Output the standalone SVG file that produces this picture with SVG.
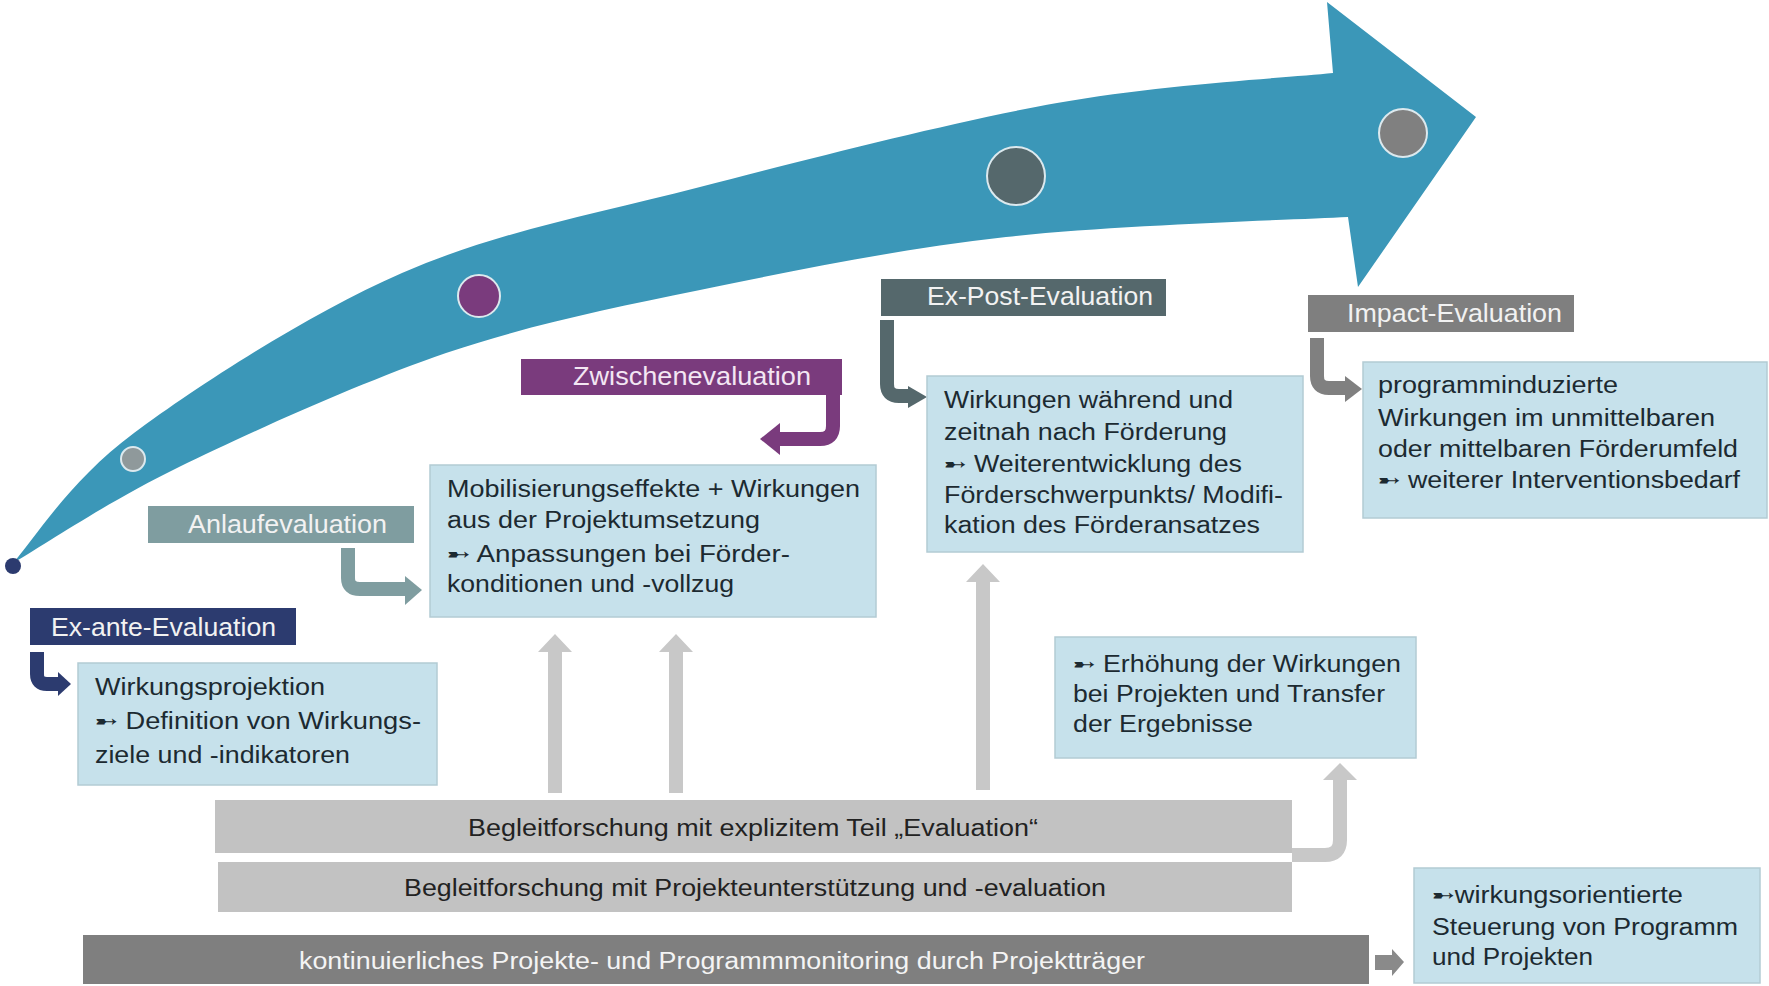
<svg xmlns="http://www.w3.org/2000/svg" width="1769" height="986" viewBox="0 0 1769 986">
<style>
.box{fill:#c6e1eb;stroke:#b3cbd4;stroke-width:1.5}
.t{font-family:"Liberation Sans","DejaVu Sans",Arial,sans-serif;font-size:23px;fill:#1c2a31}
.lbl{font-family:"Liberation Sans","DejaVu Sans",Arial,sans-serif;font-size:25px;fill:#f2f2f2}
.bar{font-family:"Liberation Sans","DejaVu Sans",Arial,sans-serif;font-size:23px;fill:#222}
.bent{fill:none;stroke-width:14;stroke-linejoin:round}
.up{fill:#c8c8c8}
</style>
<rect width="1769" height="986" fill="#ffffff"/>

<g id="timeline">
<path d="M13,563 C33,541 69,481 134,433 C199,385 308,314 402,273 C496,232 591,215 700,187 C809,159 951,122 1057,103 C1162,84 1287,78 1333,73 L1327,2 L1476,117 L1358,287 L1348,217 C1291,220 1114,225 1006,237 C898,249 793,271 700,290 C607,309 533,324 446,353 C359,383 251,432 179,467 C107,502 41,547 13,563 Z" fill="#3b97b8"/>
<circle cx="13" cy="566" r="8" fill="#2c3b6f"/>
<circle cx="133" cy="459" r="12" fill="#8f999b" stroke="#dce9ee" stroke-width="2"/>
<circle cx="479" cy="296" r="21" fill="#7a3b7d" stroke="#dce9ee" stroke-width="2"/>
<circle cx="1016" cy="176" r="29" fill="#55686c" stroke="#dce9ee" stroke-width="2"/>
<circle cx="1403" cy="133" r="24" fill="#808080" stroke="#dce9ee" stroke-width="2"/>
</g>

<g id="bars">
<rect x="215" y="800" width="1077" height="53" fill="#c2c2c2"/>
<text class="bar" x="753" y="836" text-anchor="middle" textLength="570" lengthAdjust="spacingAndGlyphs">Begleitforschung mit explizitem Teil „Evaluation“</text>
<rect x="218" y="862" width="1074" height="50" fill="#c2c2c2"/>
<text class="bar" x="755" y="896" text-anchor="middle" textLength="702" lengthAdjust="spacingAndGlyphs">Begleitforschung mit Projekteunterstützung und -evaluation</text>
<rect x="83" y="935" width="1286" height="49" fill="#7f7f7f"/>
<text class="bar" x="299" y="969" fill="#f4f4f4" style="fill:#f4f4f4" textLength="846" lengthAdjust="spacingAndGlyphs">kontinuierliches Projekte- und Programmmonitoring durch Projektträger</text>
</g>

<g id="connectors">
<path class="bent" stroke="#2c3b6f" d="M37,652 V674 Q37,684 47,684 H59" stroke-width="13"/>
<polygon points="58,672 71,684 58,696" fill="#2c3b6f"/>
<path class="bent" stroke="#7f9da0" d="M348,548 V578 Q348,589 360,589 H406" stroke-width="15"/>
<polygon points="405,576 422,590 405,605" fill="#7f9da0"/>
<path class="bent" stroke="#7a3b7d" d="M833,395 V426 Q833,439 820,439 H778" stroke-width="16"/>
<polygon points="780,423 760,439 780,455" fill="#7a3b7d"/>
<path class="bent" stroke="#55686c" d="M887,320 V384 Q887,396 899,396 H910" stroke-width="15"/>
<polygon points="908,386 927,397 908,408" fill="#55686c"/>
<path class="bent" stroke="#808080" d="M1317,338 V376 Q1317,388 1329,388 H1347" stroke-width="14"/>
<polygon points="1345,376 1362,389 1345,402" fill="#808080"/>
<path class="bent" stroke="#c8c8c8" d="M1292,855 H1325 Q1340,855 1340,840 V778" stroke-width="16"/>
<polygon points="1323,780 1340,763 1357,780" fill="#c8c8c8"/>
<polygon class="up" points="548,793 548,652 538,652 555,634 572,652 562,652 562,793"/>
<polygon class="up" points="669,793 669,652 659,652 676,634 693,652 683,652 683,793"/>
<polygon class="up" points="976,790 976,582 966,582 983,564 1000,582 990,582 990,790"/>
<polygon points="1375,955 1392,955 1392,949 1404,962 1392,976 1392,970 1375,970" fill="#8a8a8a"/>
</g>

<g id="ex-ante">
<rect x="30" y="608" width="266" height="37" fill="#2c3b6f"/>
<text class="lbl" x="51" y="636" textLength="225" lengthAdjust="spacingAndGlyphs">Ex-ante-Evaluation</text>
</g>
<g id="wirkungsprojektion">
<rect class="box" x="78" y="663" width="359" height="122"/>
<text class="t" x="95" y="695" textLength="230" lengthAdjust="spacingAndGlyphs">Wirkungsprojektion</text>
<text class="t" x="95" y="729" textLength="326" lengthAdjust="spacingAndGlyphs">➸ Definition von Wirkungs-</text>
<text class="t" x="95" y="763" textLength="255" lengthAdjust="spacingAndGlyphs">ziele und -indikatoren</text>
</g>

<g id="anlauf">
<rect x="148" y="506" width="266" height="37" fill="#7f9da0"/>
<text class="lbl" x="188" y="533" textLength="199" lengthAdjust="spacingAndGlyphs">Anlaufevaluation</text>
</g>

<g id="zwischen">
<rect x="521" y="359" width="321" height="36" fill="#7a3b7d"/>
<text class="lbl" x="573" y="385" textLength="238" lengthAdjust="spacingAndGlyphs" style="fill:#f3e6f3">Zwischenevaluation</text>
</g>
<g id="mobilisierung">
<rect class="box" x="430" y="465" width="446" height="152"/>
<text class="t" x="447" y="497" textLength="413" lengthAdjust="spacingAndGlyphs">Mobilisierungseffekte + Wirkungen</text>
<text class="t" x="447" y="528" textLength="313" lengthAdjust="spacingAndGlyphs">aus der Projektumsetzung</text>
<text class="t" x="447" y="562" textLength="343" lengthAdjust="spacingAndGlyphs">➸ Anpassungen bei  Förder-</text>
<text class="t" x="447" y="592" textLength="287" lengthAdjust="spacingAndGlyphs">konditionen und -vollzug</text>
</g>

<g id="ex-post">
<rect x="881" y="279" width="285" height="37" fill="#55686c"/>
<text class="lbl" x="927" y="305" textLength="226" lengthAdjust="spacingAndGlyphs">Ex-Post-Evaluation</text>
</g>
<g id="wirkungen-waehrend">
<rect class="box" x="927" y="376" width="376" height="176"/>
<text class="t" x="944" y="408" textLength="289" lengthAdjust="spacingAndGlyphs">Wirkungen während und</text>
<text class="t" x="944" y="440" textLength="283" lengthAdjust="spacingAndGlyphs">zeitnah nach Förderung</text>
<text class="t" x="944" y="472" textLength="298" lengthAdjust="spacingAndGlyphs">➸ Weiterentwicklung des</text>
<text class="t" x="944" y="503" textLength="339" lengthAdjust="spacingAndGlyphs">Förderschwerpunkts/ Modifi-</text>
<text class="t" x="944" y="533" textLength="316" lengthAdjust="spacingAndGlyphs">kation des Förderansatzes</text>
</g>

<g id="impact">
<rect x="1308" y="295" width="266" height="37" fill="#7f7f7f"/>
<text class="lbl" x="1347" y="322" textLength="215" lengthAdjust="spacingAndGlyphs">Impact-Evaluation</text>
</g>
<g id="programminduziert">
<rect class="box" x="1363" y="362" width="404" height="156"/>
<text class="t" x="1378" y="393" textLength="240" lengthAdjust="spacingAndGlyphs">programminduzierte</text>
<text class="t" x="1378" y="426" textLength="337" lengthAdjust="spacingAndGlyphs">Wirkungen im unmittelbaren</text>
<text class="t" x="1378" y="457" textLength="360" lengthAdjust="spacingAndGlyphs">oder mittelbaren Förderumfeld</text>
<text class="t" x="1378" y="488" textLength="362" lengthAdjust="spacingAndGlyphs">➸ weiterer Interventionsbedarf</text>
</g>

<g id="erhoehung">
<rect class="box" x="1055" y="637" width="361" height="121"/>
<text class="t" x="1073" y="672" textLength="328" lengthAdjust="spacingAndGlyphs">➸ Erhöhung der Wirkungen</text>
<text class="t" x="1073" y="702" textLength="312" lengthAdjust="spacingAndGlyphs">bei Projekten und Transfer</text>
<text class="t" x="1073" y="732" textLength="180" lengthAdjust="spacingAndGlyphs">der Ergebnisse</text>
</g>

<g id="steuerung">
<rect class="box" x="1414" y="868" width="346" height="115"/>
<text class="t" x="1432" y="903" textLength="251" lengthAdjust="spacingAndGlyphs">➸wirkungsorientierte</text>
<text class="t" x="1432" y="935" textLength="306" lengthAdjust="spacingAndGlyphs">Steuerung von Programm</text>
<text class="t" x="1432" y="965" textLength="161" lengthAdjust="spacingAndGlyphs">und Projekten</text>
</g>
</svg>
